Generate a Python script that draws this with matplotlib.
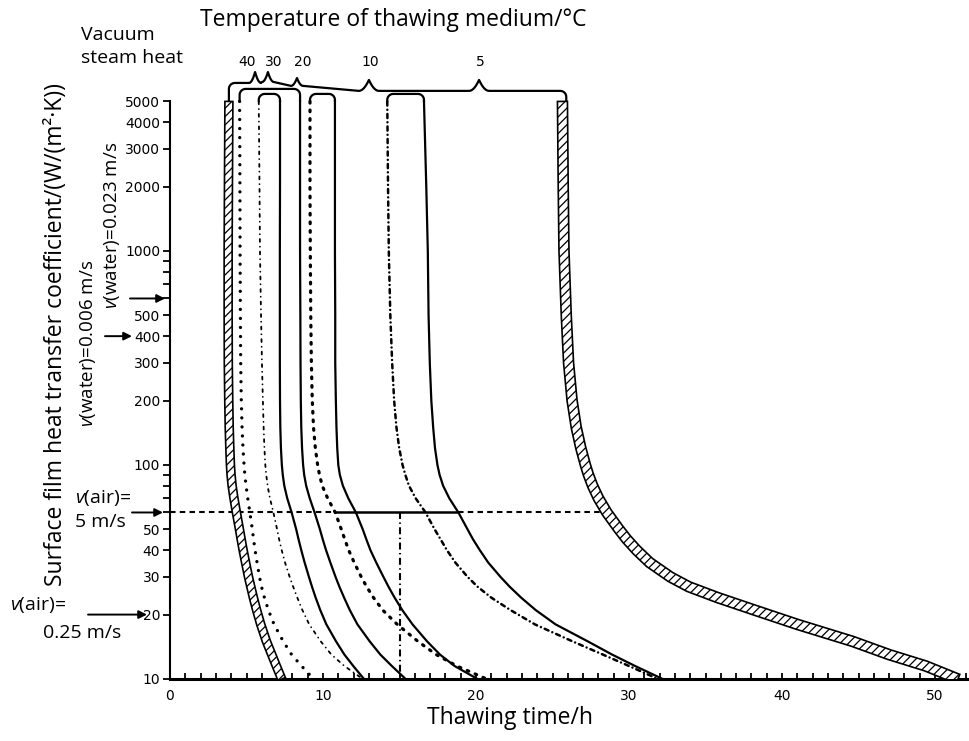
import numpy as np
import matplotlib.pyplot as plt
from matplotlib.patches import Polygon
from matplotlib.ticker import FixedLocator, NullFormatter, MultipleLocator, FuncFormatter

plt.rcParams['font.family'] = ['Open Sans', 'DejaVu Sans']
plt.rcParams['mathtext.fontset'] = 'custom'
plt.rcParams['mathtext.rm'] = 'Open Sans'
plt.rcParams['mathtext.it'] = 'Open Sans:italic'
plt.rcParams['lines.scale_dashes'] = False
plt.rcParams['hatch.linewidth'] = 0.9

# surface heat transfer coefficient levels, W/(m2.K)
hk = [5000, 2000, 1000, 500, 300, 200, 150, 120, 100, 90, 80, 70, 60,
      50, 45, 40, 35, 30, 27, 24, 21, 18, 15, 13, 11.5, 10]

# thawing time (h) at those levels
t_hatch_l = [3.85, 3.82, 3.80, 3.80, 3.81, 3.84, 3.87, 3.91, 3.95, 3.99, 4.06, 4.18, 4.34,
             4.54, 4.65, 4.78, 4.94, 5.13, 5.28, 5.45, 5.66, 5.93, 6.30, 6.65, 6.95, 7.30]
t_dot_a = [4.55, 4.57, 4.58, 4.60, 4.62, 4.66, 4.71, 4.77, 4.84, 4.89, 4.97, 5.08, 5.22,
           5.38, 5.46, 5.56, 5.69, 5.85, 5.98, 6.17, 6.43, 6.80, 7.40, 7.95, 8.60, 9.38]
t_dash_a = [5.80, 5.85, 5.88, 5.95, 6.01, 6.07, 6.12, 6.17, 6.23, 6.29, 6.38, 6.53, 6.76,
            7.00, 7.13, 7.30, 7.52, 7.82, 8.05, 8.32, 8.65, 9.10, 9.85, 10.55, 11.40, 12.60]
t_sol_a = [7.19, 7.19, 7.18, 7.18, 7.18, 7.19, 7.21, 7.25, 7.31, 7.37, 7.47, 7.66, 7.95,
           8.25, 8.40, 8.58, 8.80, 9.08, 9.28, 9.52, 9.82, 10.22, 10.85, 11.40, 11.98, 12.68]
t_sol_b = [8.50, 8.50, 8.50, 8.52, 8.53, 8.55, 8.58, 8.63, 8.70, 8.77, 8.90, 9.13, 9.45,
           9.80, 9.98, 10.20, 10.48, 10.82, 11.07, 11.38, 11.75, 12.25, 13.05, 13.75, 14.50, 15.40]
t_dot_b = [9.15, 9.15, 9.17, 9.20, 9.24, 9.30, 9.38, 9.50, 9.65, 9.77, 9.95, 10.30, 10.80,
           11.20, 11.42, 11.68, 12.04, 12.50, 12.85, 13.30, 13.90, 14.85, 16.20, 17.40, 18.75, 20.70]
t_sol_c = [10.78, 10.78, 10.78, 10.80, 10.80, 10.84, 10.88, 10.93, 11.00, 11.10, 11.30, 11.65, 12.15,
           12.60, 12.83, 13.10, 13.48, 13.95, 14.28, 14.68, 15.18, 15.85, 16.80, 17.65, 18.60, 20.10]
t_dash_b = [14.20, 14.25, 14.30, 14.40, 14.52, 14.65, 14.80, 14.98, 15.20, 15.38, 15.62, 16.05, 16.70,
            17.30, 17.68, 18.10, 18.65, 19.45, 20.10, 21.00, 22.25, 23.85, 26.30, 28.30, 30.00, 31.90]
t_sol_d = [16.60, 16.75, 16.85, 16.90, 16.98, 17.08, 17.20, 17.32, 17.48, 17.62, 17.85, 18.25, 18.85,
           19.45, 19.80, 20.25, 20.80, 21.60, 22.20, 22.95, 23.90, 25.20, 27.30, 28.90, 30.40, 32.20]
t_hatch_r = [25.65, 25.70, 25.75, 25.90, 26.05, 26.28, 26.55, 26.85, 27.15, 27.35, 27.62, 28.00, 28.55,
             29.35, 29.85, 30.50, 31.35, 32.70, 33.90, 35.80, 38.20, 41.00, 44.60, 47.00, 49.40, 51.50]

# air 5 m/s line and the vertical drop line
air_h = 60
drop_t = 15.0

# temperature braces on top
temps = ['40', '30', '20', '10', '5']
brace_peak_t = [5.56, 6.40, 8.30, 13.0, 20.2]
brace_label_t = [5.05, 6.75, 8.70, 13.1, 20.3]
brace_base_h = [6100, 6160, 5910, 5600, 5600]
brace_peak_h = [6860, 6860, 6430, 6300, 6300]
label_h = 7640

yticks = [10, 20, 30, 40, 50, 100, 200, 300, 400, 500, 1000, 2000, 3000, 4000, 5000]
yminor = [60, 70, 80, 90, 600, 700, 800, 900]

W, H = 969, 741
X0, Y0 = 170, 679      # axis origin in image pixels
PX_H, PX_DEC = 15.3, 214

fig = plt.figure(figsize=(W / 100, H / 100), dpi=100)
ax = fig.add_axes([X0 / W, (H - Y0) / H, (W - X0) / W, Y0 / H])
ax.set_yscale('log')
ax.set_xlim(0, (W - X0) / PX_H)
ax.set_ylim(10, 10 ** (1 + Y0 / PX_DEC))
ax.patch.set_alpha(0)

ax.spines['top'].set_visible(False)
ax.spines['right'].set_visible(False)
ax.spines['left'].set_bounds(10, 5000)
ax.spines['left'].set_linewidth(1.5)
ax.spines['bottom'].set_linewidth(2.2)

ax.yaxis.set_major_locator(FixedLocator(yticks))
ax.yaxis.set_minor_locator(FixedLocator(yminor))
ax.yaxis.set_major_formatter(FuncFormatter(lambda v, p: '%d' % v))
ax.yaxis.set_minor_formatter(NullFormatter())
ax.tick_params(axis='y', which='both', direction='out', length=5, width=1.3,
               labelsize=10, pad=2, labelfontfamily='DejaVu Sans')
ax.xaxis.set_major_locator(MultipleLocator(10))
ax.xaxis.set_minor_locator(MultipleLocator(1))
ax.tick_params(axis='x', which='both', direction='in', length=4, width=1.3,
               labelsize=10, pad=7, labelfontfamily='DejaVu Sans')


def to_disp(t, hv):
    return ax.transData.transform(np.column_stack([np.atleast_1d(t), np.atleast_1d(hv)]))


def draw_disp(pts, **kw):
    d = ax.transData.inverted().transform(np.vstack(pts))
    ax.plot(d[:, 0], d[:, 1], color='black', clip_on=False, solid_capstyle='round', **kw)


def arc(cx, cy, r, a0, a1, n=8):
    a = np.linspace(a0, a1, n)
    return np.column_stack([cx + r * np.cos(a), cy + r * np.sin(a)])


def band(t, hv, width):
    P = to_disp(t, hv)
    d = np.gradient(P, axis=0)
    n = np.column_stack([-d[:, 1], d[:, 0]])
    n /= np.hypot(n[:, 0], n[:, 1])[:, None]
    poly = np.vstack([P + n * width / 2, (P - n * width / 2)[::-1]])
    ax.add_patch(Polygon(ax.transData.inverted().transform(poly), closed=True,
                         facecolor='white', edgecolor='black', hatch='////',
                         lw=1.2, zorder=3))


def cap(t1, t2, top_h, r=6):
    p1, p2 = to_disp(t1, hk[0])[0], to_disp(t2, hk[0])[0]
    yt = to_disp(0, top_h)[0, 1]
    draw_disp([p1, arc(p1[0] + r, yt - r, r, np.pi, np.pi / 2),
               arc(p2[0] - r, yt - r, r, np.pi / 2, 0), p2], lw=1.6)


# curves
solid = dict(color='black', lw=1.6)
ax.plot(t_dot_a, hk, color='black', lw=2.4, linestyle=(0, (0.01, 6.5)), dash_capstyle='round')
ax.plot(t_dash_a, hk, color='black', lw=1.3, linestyle=(0, (2, 3.5, 0.01, 3.5)), dash_capstyle='round')
ax.plot(t_sol_a, hk, **solid)
ax.plot(t_sol_b, hk, **solid)
ax.plot(t_dot_b, hk, color='black', lw=2.3, linestyle=(0, (1.2, 5)), dash_capstyle='round')
ax.plot(t_sol_c, hk, **solid)
ax.plot(t_dash_b, hk, color='black', lw=1.8, linestyle=(0, (3, 3, 0.01, 3)), dash_capstyle='round')
ax.plot(t_sol_d, hk, **solid)
band(t_hatch_l, hk, 8)
band(t_hatch_r, hk, 10)

# air 5 m/s line: dashed, solid between the curves, dashed to the right band
i60 = hk.index(air_h)
ax.plot([0, t_dot_b[i60]], [air_h, air_h], color='black', lw=1.5, linestyle=(0, (4, 3)))
ax.plot([t_dot_b[i60], t_sol_d[i60]], [air_h, air_h], color='black', lw=1.8)
ax.plot([t_sol_d[i60], t_hatch_r[i60] - 0.3], [air_h, air_h], color='black', lw=1.5, linestyle=(0, (4, 3)))
ax.plot([drop_t, drop_t], [air_h, 10], color='black', lw=1.5, linestyle=(0, (5, 2.5, 1, 2.5)))

# caps joining pairs of curves
cap(t_dot_a[0], t_sol_b[0], 5720)
cap(t_dash_a[0], t_sol_a[0], 5420)
cap(t_dot_b[0], t_sol_c[0], 5420)
cap(t_dash_b[0], t_sol_d[0], 5420)

# brace chain with the temperature labels
r = 6
start = to_disp(t_hatch_l[0], hk[0])[0]
end = to_disp(t_hatch_r[0] + 0.25, hk[0])[0]
pk = to_disp(brace_peak_t, brace_peak_h)
bs = to_disp(brace_peak_t, brace_base_h)
pts = [start, arc(start[0] + r, bs[0, 1] - r, r, np.pi, np.pi / 2)]
for i in range(len(temps)):
    w = 6 if i < 3 else 10
    u = np.linspace(0, 1, 7)
    xb, yb, xp, yp = bs[i, 0], bs[i, 1], pk[i, 0], pk[i, 1]
    pts.append(np.column_stack([xp - w + w * u, yb + (yp - yb) * u ** 2]))
    pts.append(np.column_stack([xp + w * u, yb + (yp - yb) * (1 - u) ** 2]))
pts.append(arc(end[0] - r, bs[-1, 1] - r, r, np.pi / 2, 0))
pts.append(end)
draw_disp(pts, lw=1.6)

for s, t in zip(temps, brace_label_t):
    ax.text(t, label_h, s, ha='center', va='center', fontsize=10,
            family='DejaVu Sans', clip_on=False)


def ftext(x, y, s, **kw):
    fig.text(x / W, 1 - y / H, s, **kw)


def arrow(x1, x2, level):
    y = to_disp(0, level)[0, 1]
    ax.annotate('', xy=(x2, y), xytext=(x1, y), xycoords='figure pixels',
                textcoords='figure pixels', annotation_clip=False,
                arrowprops=dict(arrowstyle='-|>', color='black', lw=1.4,
                                mutation_scale=12, shrinkA=0, shrinkB=0))


ftext(393, 20, 'Temperature of thawing medium/\u00b0C', ha='center', va='center', fontsize=16.5)
ftext(81, 35, 'Vacuum', ha='left', va='center', fontsize=14)
ftext(81, 58, 'steam heat', ha='left', va='center', fontsize=14)
ftext(56, 334, 'Surface film heat transfer coefficient/(W/(m\u00b2\u00b7K))',
      rotation=90, ha='center', va='center', fontsize=16.5)
ftext(510, 718, 'Thawing time/h', ha='center', va='center', fontsize=16.5)

ftext(112, 225, r'$v$(water)=0.023 m/s', rotation=90, ha='center', va='center', fontsize=13.5)
ftext(88, 343, r'$v$(water)=0.006 m/s', rotation=90, ha='center', va='center', fontsize=13.5)
ftext(75, 498, r'$v$(air)=', ha='left', va='center', fontsize=14)
ftext(75, 522, '5 m/s', ha='left', va='center', fontsize=14)
ftext(10, 605, r'$v$(air)=', ha='left', va='center', fontsize=14)
ftext(43, 633, '0.25 m/s', ha='left', va='center', fontsize=14)

arrow(130, 165, 600)
arrow(105, 132, 400)
arrow(132, 163, 60)
arrow(88, 147, 20)

fig.savefig('out.png', dpi=100)
